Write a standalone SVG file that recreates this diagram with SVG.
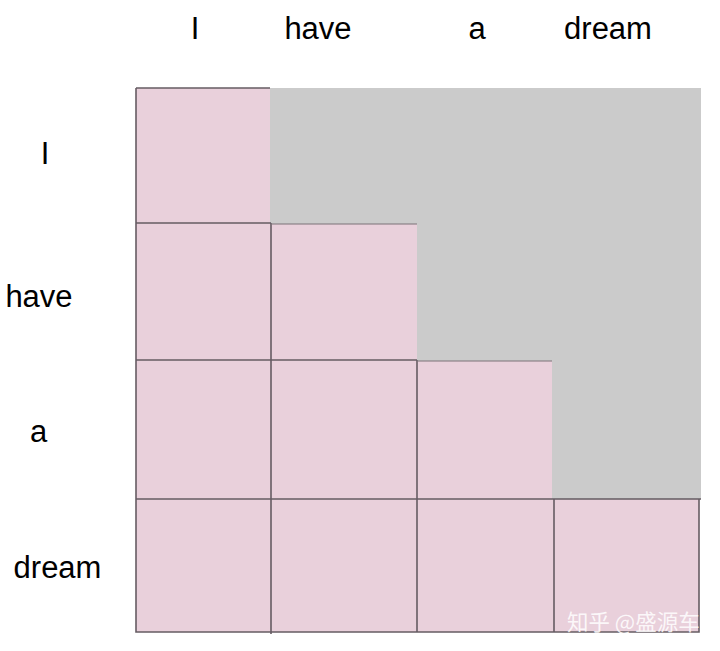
<svg xmlns="http://www.w3.org/2000/svg" width="720" height="651" viewBox="0 0 720 651">
<style>
.lbl{font-family:"Liberation Sans",Arial,sans-serif;font-size:31px;fill:#000;text-anchor:middle}
.cell{fill:#e9d0db}
.grid{stroke:#665c63;stroke-width:1.6;fill:none}
.light{stroke:#7d7379;stroke-width:1.2}
.wm{font-family:"Noto Sans CJK SC","Liberation Sans",sans-serif;font-size:21.5px;fill:#ffffff;fill-opacity:0.85}
</style>
<rect width="720" height="651" fill="#ffffff"/>
<g id="mask"><rect x="270" y="88" width="431" height="411" fill="#cbcbcb"/></g>
<g id="cell-1-1"><rect class="cell" x="136" y="88" width="134" height="135"/></g>
<g id="cell-2-1"><rect class="cell" x="136" y="223" width="135" height="137"/></g>
<g id="cell-2-2"><rect class="cell" x="271" y="224" width="146" height="136"/></g>
<g id="cell-3-1"><rect class="cell" x="136" y="360" width="135" height="139"/></g>
<g id="cell-3-2"><rect class="cell" x="271" y="360" width="146" height="139"/></g>
<g id="cell-3-3"><rect class="cell" x="417" y="361" width="135" height="138"/></g>
<g id="cell-4-1"><rect class="cell" x="136" y="499" width="136" height="133"/></g>
<g id="cell-4-2"><rect class="cell" x="272" y="499" width="146" height="133"/></g>
<g id="cell-4-3"><rect class="cell" x="418" y="499" width="136" height="133"/></g>
<g id="cell-4-4"><rect class="cell" x="554" y="499" width="145" height="133"/></g>
<g id="lines">
<path class="grid" d="M136 88V632H699V499M136 88H270M136 223H271M136 360H417M136 499H701M271 223V634M417 360V632M554 499V632"/>
<path class="grid light" d="M271 224H417M417 361H552"/>
</g>
<g id="top-labels">
<text class="lbl" x="195" y="39">I</text>
<text class="lbl" x="318" y="39">have</text>
<text class="lbl" x="477" y="39">a</text>
<text class="lbl" x="608" y="39">dream</text>
</g>
<g id="left-labels">
<text class="lbl" x="45" y="164">I</text>
<text class="lbl" x="39" y="307">have</text>
<text class="lbl" x="38.5" y="442">a</text>
<text class="lbl" x="57.5" y="578">dream</text>
</g>
<text class="wm" x="567" y="630">知乎 @盛源车</text>
</svg>
